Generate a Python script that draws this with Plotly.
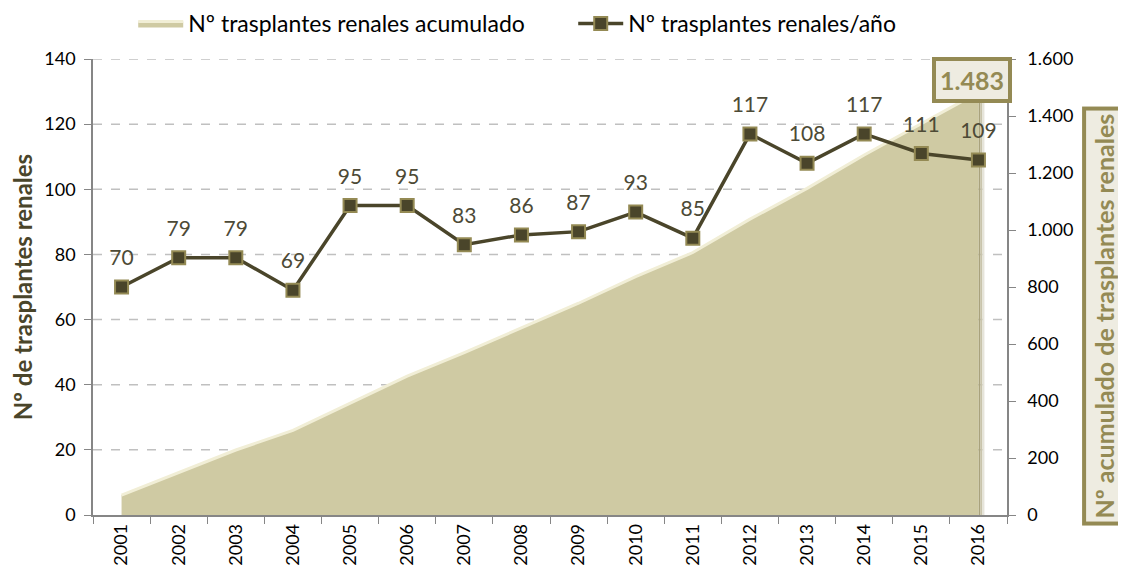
import plotly.graph_objects as go

years = [str(y) for y in range(2001, 2017)]
per_year = [70, 79, 79, 69, 95, 95, 83, 86, 87, 93, 85, 117, 108, 117, 111, 109]
cumulative = [70, 149, 228, 297, 392, 487, 570, 656, 743, 836, 921, 1038, 1146, 1263, 1374, 1483]
left_ticks = [0, 20, 40, 60, 80, 100, 120, 140]

FONT = "Lato"
OLIVE = "#948A54"
DARK = "#4A452A"

fig = go.Figure()

fig.add_trace(go.Scatter(
    x=years, y=cumulative, name="Nº trasplantes renales acumulado",
    mode="lines", fill="tozeroy", fillcolor="#CFCAA3",
    line=dict(color="#F1EED6", width=3), yaxis="y", hoverinfo="x+y"))

fig.add_trace(go.Scatter(
    x=years, y=per_year, name="Nº trasplantes renales/año",
    mode="lines+markers",
    line=dict(color=DARK, width=3.5),
    marker=dict(symbol="square", size=13, color=DARK, line=dict(color=OLIVE, width=2)),
    yaxis="y2"))

# data labels (offset above the markers)
fig.add_trace(go.Scatter(
    x=years, y=per_year, mode="markers+text", text=[str(v) for v in per_year],
    textposition="top center", textfont=dict(family=FONT, size=21, color="#4D4A36"),
    marker=dict(size=25, color="rgba(0,0,0,0)"), showlegend=False,
    hoverinfo="skip", yaxis="y2"))

shapes = []
for v in left_ticks[1:]:
    shapes.append(dict(type="line", xref="paper", x0=0, x1=1, yref="y2", y0=v, y1=v,
                       line=dict(color="#C0C0C0", width=1.5, dash="dash"), layer="below"))
# narrow 3D side shadow of the area at the last category
last = len(years) - 1
for i, col in enumerate(["#A9A27C", "#C9C4AC", "#E6E4DA"]):
    shapes.append(dict(type="rect", xref="x", yref="y", x0=last + i * 0.035, x1=last + (i + 1) * 0.035,
                       y0=0, y1=cumulative[-1] - 10 * i, fillcolor=col, line=dict(width=0),
                       layer="below"))

annotations = [
    dict(x=last, y=cumulative[-1], xref="x", yref="y", yanchor="middle", yshift=12,
         xshift=-6, text="<b>" + f"{cumulative[-1]:,}".replace(",", ".") + "</b>",
         showarrow=False, font=dict(family=FONT, size=25, color=OLIVE),
         bgcolor="#EEECE1", bordercolor=OLIVE, borderwidth=4, borderpad=4),
    dict(x=1.13, y=0.437, xref="paper", yref="paper", textangle=-90,
         text="<b>Nº acumulado de trasplantes renales</b>", showarrow=False,
         font=dict(family=FONT, size=25, color=OLIVE),
         bgcolor="#EEECE1", bordercolor=OLIVE, borderwidth=4, borderpad=3),
]

fig.update_layout(
    width=1118, height=567,
    margin=dict(l=85, r=119, t=51, b=60, autoexpand=False),
    paper_bgcolor="white", plot_bgcolor="white",
    separators=",.",
    font=dict(family=FONT, size=18, color="black"),
    showlegend=True,
    legend=dict(orientation="h", x=0.044, xanchor="left", y=1.078, yanchor="middle",
                font=dict(family=FONT, size=23, color="black"), bgcolor="rgba(0,0,0,0)",
                itemwidth=45, entrywidth=380, entrywidthmode="pixels"),
    xaxis=dict(type="category", range=[-0.5, 15.5], tickson="boundaries",
               ticks="outside", ticklen=7, tickcolor="#868686", showline=True,
               linecolor="#868686", linewidth=1.5, tickangle=-90, showgrid=False,
               tickfont=dict(family=FONT, size=18, color="black")),
    yaxis=dict(side="right", range=[0, 1600], dtick=200, tickformat=",",
               showgrid=False, showline=True, linecolor="#868686", linewidth=1.5,
               ticks="outside", ticklen=7, tickcolor="#868686", zeroline=False,
               ticklabelstandoff=8,
               tickfont=dict(family=FONT, size=18, color="black")),
    yaxis2=dict(overlaying="y", side="left", range=[0, 140], tickvals=left_ticks,
                showgrid=False, showline=True, linecolor="#868686", linewidth=1.5,
                ticks="outside", ticklen=7, tickcolor="#868686", zeroline=False,
                ticklabelstandoff=5,
                tickfont=dict(family=FONT, size=18, color="black"),
                title=dict(text="<b>Nº de trasplantes renales</b>", standoff=8,
                           font=dict(family=FONT, size=24, color=DARK))),
    shapes=shapes, annotations=annotations,
)

fig.write_html("out.html")
